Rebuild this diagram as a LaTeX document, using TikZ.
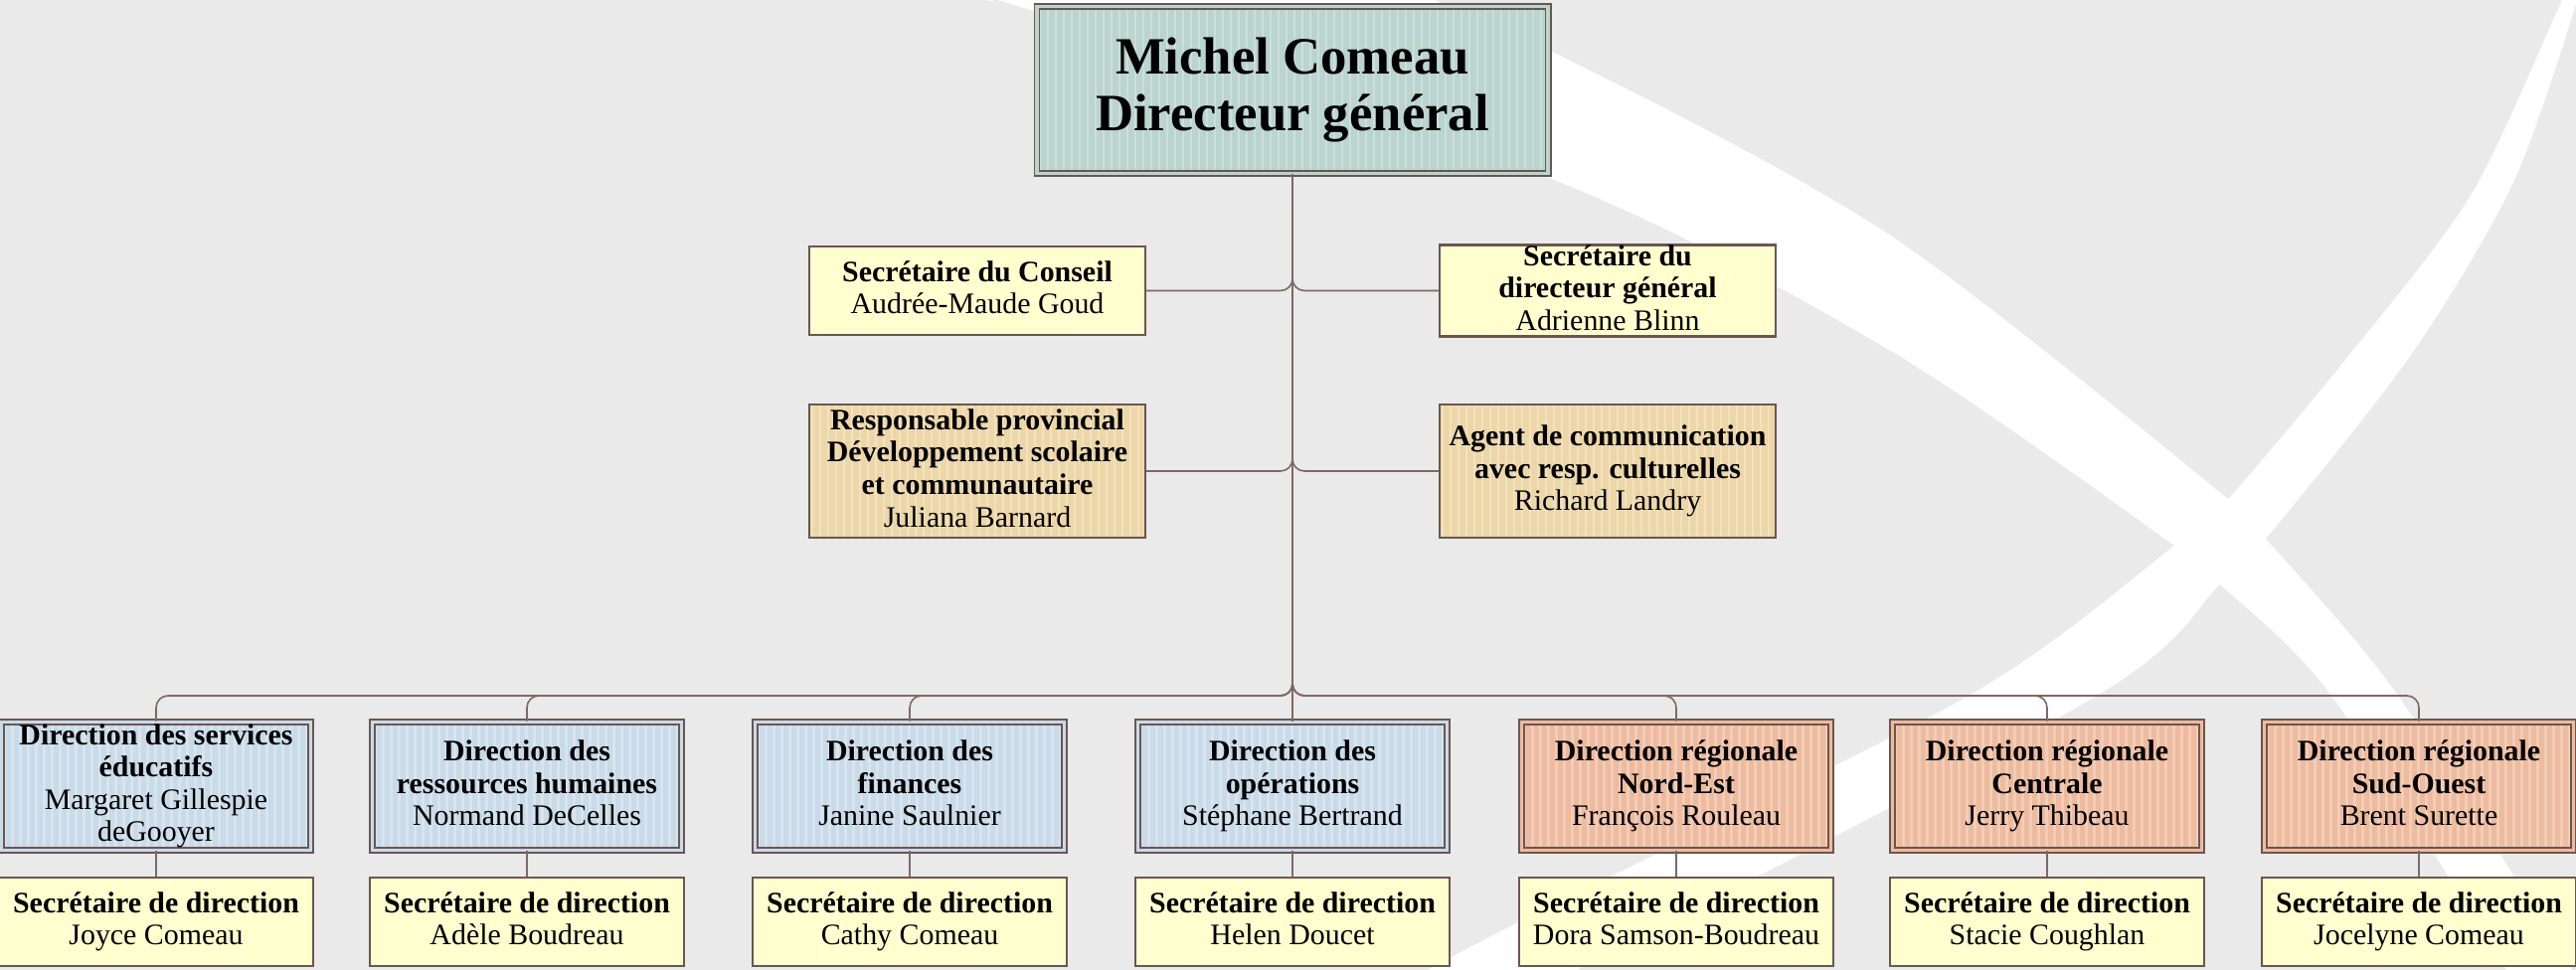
\documentclass[tikz,border=0pt]{standalone}
\usepackage{fontspec}
\setmainfont{Liberation Serif}
\definecolor{paper}{HTML}{EAEAEA}
\definecolor{frame}{HTML}{6B5651}
\definecolor{wire}{HTML}{7E6964}
\definecolor{dgfill}{HTML}{BAD4CE}
\definecolor{notefill}{HTML}{FFFFCC}
\definecolor{tanfill}{HTML}{EDD7A8}
\definecolor{bluefill}{HTML}{C9DAE9}
\definecolor{redfill}{HTML}{EEBB9E}
\tikzset{
  stripes/.style={path picture={
    \foreach \k in {0.03,0.11,...,5.3}
      \draw[white,opacity=0.28,line width=0.025cm]
        ([xshift=\k cm]path picture bounding box.south west) --
        ([xshift=\k cm]path picture bounding box.north west);}},
  txt/.style={align=center,inner sep=0pt,font=\fontsize{8.5pt}{9.25pt}\selectfont,
              execute at begin node={\rule{0pt}{8pt}},
              execute at end node={\rule[-1.8pt]{0pt}{1.8pt}}},
  single/.style={txt,fill=#1,stripes,draw=frame,line width=0.022cm},
  twin/.style={txt,fill=#1,stripes,draw=frame,line width=0.016cm,double=#1,double distance=0.035cm}
}
\begin{document}
\begin{tikzpicture}[x=0.01cm,y=-0.01cm]
\useasboundingbox (0,0) rectangle (2591,976);
\fill[paper] (0,0) rectangle (2591,976);
\begin{scope}
    \clip (0,0) rectangle (2591,976);
    \fill[white] plot[smooth] coordinates {(900,-250) (1300,-60) (1563,53) (1900,236) (2241,502) (2279,542) (2412,700) (2587,976) (2605,1010)}
        -- plot[smooth] coordinates {(2540,1010) (2521,976) (2345,700) (2233,588) (2187,549) (1900,352) (1563,181) (1039,11) (993,0) (860,-30)} -- cycle;
    \fill[white] plot[smooth] coordinates {(2592,-25) (2577,0) (2486,195) (2363,357) (2241,502) (2187,549) (1980,700) (1527,928) (1420,985)}
        -- plot[smooth] coordinates {(1530,1005) (1586,976) (2109,700) (2233,588) (2279,542) (2425,357) (2530,179) (2600,-25)} -- cycle;
\end{scope}
\node[twin=dgfill,minimum width=5.14cm,minimum height=1.68cm,
      font=\fontsize{15pt}{16pt}\selectfont\bfseries,
      execute at begin node={\rule{0pt}{15pt}},
      execute at end node={\rule[-2pt]{0pt}{2pt}}] (A) at (1300,90.5) {Michel Comeau\\Directeur général};
\begin{scope}[every node/.style={minimum width=3.38cm}]
    \node[single=notefill,minimum height=0.89cm] (B1) at (983,292.5) {\textbf{Secrétaire du Conseil}\\Audrée-Maude Goud};
    \node[single=notefill,minimum height=0.89cm] (B2) at (1617,292.5) {\textbf{Secrétaire du}\\\textbf{directeur général}\\Adrienne Blinn};
    \node[single=tanfill,minimum height=1.34cm] (C1) at (983,474) {\textbf{Responsable provincial}\\\textbf{Développement scolaire}\\\textbf{et communautaire}\\Juliana Barnard};
    \node[single=tanfill,minimum height=1.34cm] (C2) at (1617,474) {\textbf{Agent de communication}\\\textbf{avec resp. culturelles}\\Richard Landry};
\end{scope}
\begin{scope}[every node/.style={minimum width=3.11cm,minimum height=1.29cm}]
    \node[twin=bluefill] (D1) at (157,791) {\textbf{Direction des services}\\\textbf{éducatifs}\\Margaret Gillespie\\deGooyer};
    \node[twin=bluefill] (D2) at (530,791) {\textbf{Direction des}\\\textbf{ressources humaines}\\Normand DeCelles};
    \node[twin=bluefill] (D3) at (915,791) {\textbf{Direction des}\\\textbf{finances}\\Janine Saulnier};
    \node[twin=bluefill] (D4) at (1300,791) {\textbf{Direction des}\\\textbf{opérations}\\Stéphane Bertrand};
    \node[twin=redfill] (D5) at (1686,791) {\textbf{Direction régionale}\\\textbf{Nord-Est}\\François Rouleau};
    \node[twin=redfill] (D6) at (2059,791) {\textbf{Direction régionale}\\\textbf{Centrale}\\Jerry Thibeau};
    \node[twin=redfill] (D7) at (2433,791) {\textbf{Direction régionale}\\\textbf{Sud-Ouest}\\Brent Surette};
\end{scope}
\begin{scope}[every node/.style={single=notefill,minimum width=3.16cm,minimum height=0.89cm}]
    \node (E1) at (157,927.5) {\textbf{Secrétaire de direction}\\Joyce Comeau};
    \node (E2) at (530,927.5) {\textbf{Secrétaire de direction}\\Adèle Boudreau};
    \node (E3) at (915,927.5) {\textbf{Secrétaire de direction}\\Cathy Comeau};
    \node (E4) at (1300,927.5) {\textbf{Secrétaire de direction}\\Helen Doucet};
    \node (E5) at (1686,927.5) {\textbf{Secrétaire de direction}\\Dora Samson-Boudreau};
    \node (E6) at (2059,927.5) {\textbf{Secrétaire de direction}\\Stacie Coughlan};
    \node (E7) at (2433,927.5) {\textbf{Secrétaire de direction}\\Jocelyne Comeau};
\end{scope}
\coordinate (bus) at (1300,700);
\begin{scope}[every edge/.style={draw=wire,line width=0.016cm,rounded corners=0.12cm},
              elbow/.style={to path={|- (\tikztotarget)}},
              busdrop/.style={to path={-- (bus) -| (\tikztotarget)}}]
    \path (A.south) edge[elbow] (B1.east);
    \path (A.south) edge[elbow] (B2.west);
    \path (A.south) edge[elbow] (C1.east);
    \path (A.south) edge[elbow] (C2.west);
    \path (A.south) edge[busdrop] (D1.north);
    \path (A.south) edge[busdrop] (D2.north);
    \path (A.south) edge[busdrop] (D3.north);
    \path (A.south) edge (D4.north);
    \path (A.south) edge[busdrop] (D5.north);
    \path (A.south) edge[busdrop] (D6.north);
    \path (A.south) edge[busdrop] (D7.north);
    \path (D1) edge (E1);
    \path (D2) edge (E2);
    \path (D3) edge (E3);
    \path (D4) edge (E4);
    \path (D5) edge (E5);
    \path (D6) edge (E6);
    \path (D7) edge (E7);
\end{scope}
\end{tikzpicture}
\end{document}
